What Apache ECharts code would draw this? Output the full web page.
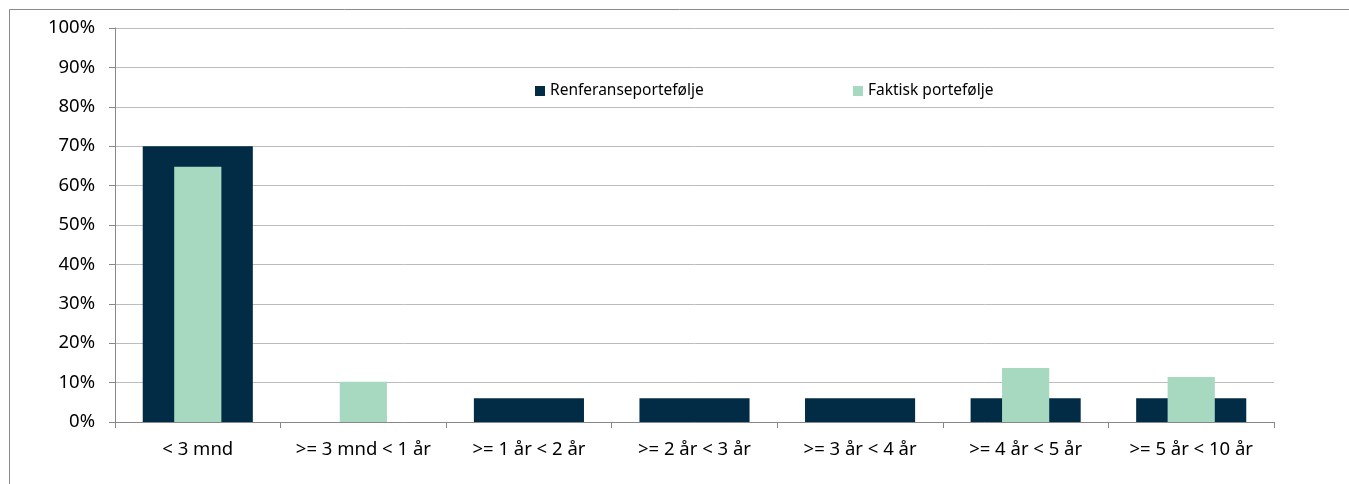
<!DOCTYPE html>
<html>
<head>
<meta charset="UTF-8">
<title></title>
<script src="https://cdn.jsdelivr.net/npm/echarts@6/dist/echarts.min.js"></script>
<style>
  html, body { margin: 0; padding: 0; background: #fff; }
  #content { width: 1349px; height: 484px; }
</style>
</head>
<body>
<div id="content"></div>
<script>
// data
var categories = ['< 3 mnd', '>= 3 mnd < 1 år', '>= 1 år < 2 år', '>= 2 år < 3 år', '>= 3 år < 4 år', '>= 4 år < 5 år', '>= 5 år < 10 år'];
var referanse = [70, 0, 6, 6, 6, 6, 6];
var faktisk = [64.8, 10.2, 0, 0, 0, 13.7, 11.4];
var yTicks = [0, 10, 20, 30, 40, 50, 60, 70, 80, 90, 100];

var font = 'Noto Sans';
var myChart = echarts.init(document.getElementById('content'));

var option = {
    animation: false,
    textStyle: { fontFamily: font },
    graphic: [{
        type: 'rect',
        shape: { x: 9.5, y: 9.5, width: 1360, height: 500 },
        style: { fill: 'none', stroke: '#8a8a8a', lineWidth: 1 },
        silent: true
    }],
    legend: [
        {
            data: ['Renferanseportefølje'],
            left: 530, top: 78,
            itemWidth: 10, itemHeight: 10, icon: 'rect',
            textStyle: { fontFamily: font, fontSize: 15.5, color: '#000' }
        },
        {
            data: ['Faktisk portefølje'],
            left: 848, top: 78,
            itemWidth: 10, itemHeight: 10, icon: 'rect',
            textStyle: { fontFamily: font, fontSize: 15.5, color: '#000' }
        }
    ],
    grid: { left: 115, right: 75, top: 28, bottom: 62 },
    xAxis: [
        {
            type: 'category',
            data: categories,
            axisLine: { lineStyle: { color: '#888' } },
            axisTick: { show: true, length: 6, alignWithLabel: false, lineStyle: { color: '#888' } },
            axisLabel: { color: '#000', fontSize: 18.5, margin: 18, interval: 0, fontFamily: font }
        },
        {
            type: 'category',
            data: categories,
            show: false,
            position: 'bottom'
        }
    ],
    yAxis: {
        type: 'value',
        min: 0, max: 100, interval: 10,
        axisLine: { show: true, lineStyle: { color: '#888' } },
        axisTick: { show: true, length: 6, lineStyle: { color: '#888' } },
        splitLine: { lineStyle: { color: '#bcbcbc' } },
        axisLabel: {
            color: '#000', fontSize: 18.5, margin: 20, fontFamily: font,
            formatter: function (v) { return yTicks.indexOf(v) >= 0 ? v + '%' : ''; }
        }
    },
    series: [
        {
            name: 'Renferanseportefølje',
            type: 'bar',
            xAxisIndex: 0,
            barWidth: '66.5%',
            itemStyle: { color: '#022c45' },
            data: referanse
        },
        {
            name: 'Faktisk portefølje',
            type: 'bar',
            xAxisIndex: 1,
            barWidth: '28.5%',
            itemStyle: { color: '#a7d8c0' },
            data: faktisk
        }
    ]
};

myChart.setOption(option);
</script>
</body>
</html>
